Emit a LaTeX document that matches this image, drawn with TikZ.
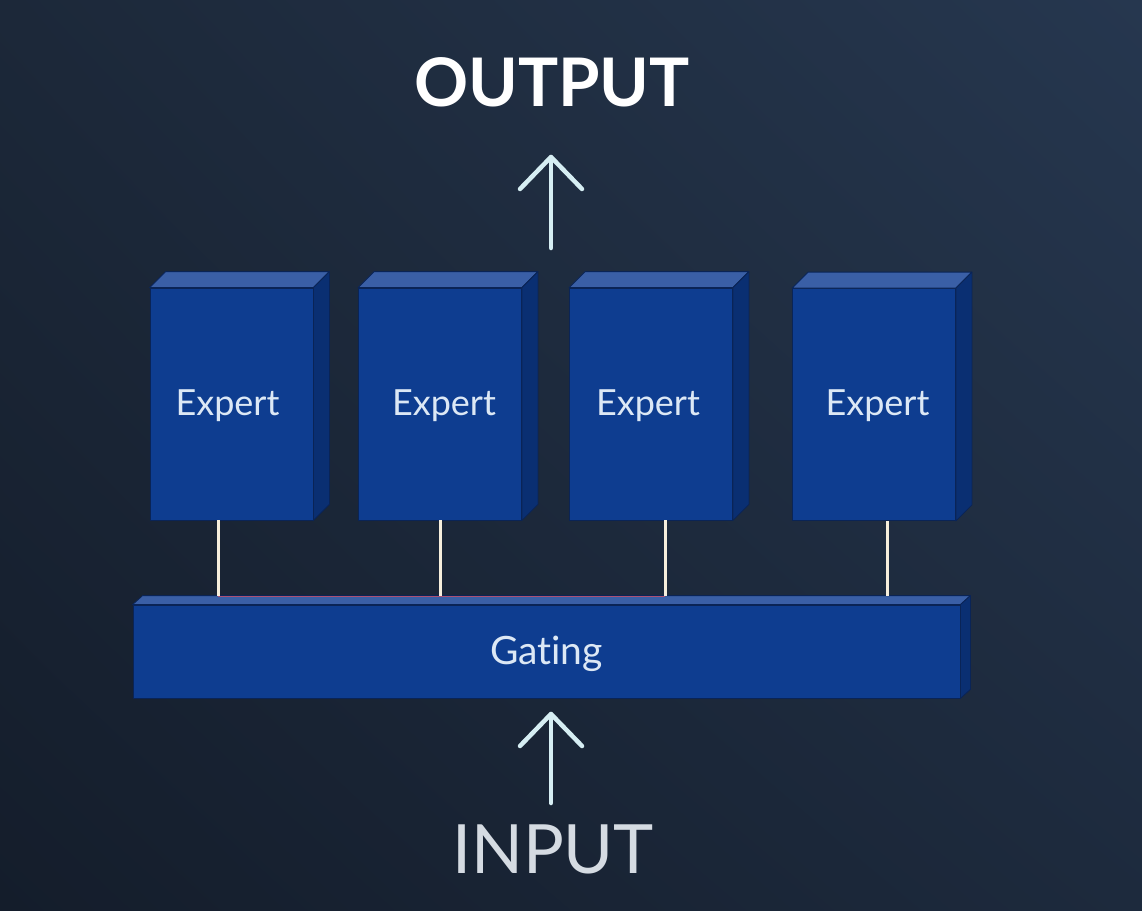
\documentclass[tikz,border=0pt]{standalone}
\usepackage{fontspec}
\setmainfont{Lato}[Ligatures={NoCommon}]
\usetikzlibrary{calc,shadings}
\definecolor{frontc}{HTML}{0E3D90}
\definecolor{topc}{HTML}{3A5FA6}
\definecolor{sidec}{HTML}{0A2F72}
\definecolor{edgec}{HTML}{0A2456}
\definecolor{wirec}{HTML}{F6EEDC}
\definecolor{arrowc}{HTML}{D6EEF3}
\definecolor{inputc}{HTML}{D5DBE2}
\definecolor{labelc}{HTML}{DCE8F5}
\definecolor{redline}{HTML}{C9506A}
\definecolor{bgul}{HTML}{1C2839}
\definecolor{bgur}{HTML}{26374F}
\definecolor{bgll}{HTML}{141D2B}
\definecolor{bglr}{HTML}{1D2A3D}
\tikzset{
  x=1pt,y=-1pt,
  face/.style={draw=edgec,line width=0.8pt,line join=round},
  expert/.style={face,fill=frontc,minimum width=163pt,minimum height=232pt,inner sep=0pt},
  gatebox/.style={face,fill=frontc,minimum width=827pt,minimum height=93pt,inner sep=0pt},
  boxlabel/.style={text=labelc,font=\fontsize{36}{36}\selectfont,inner sep=0pt},
  wire/.style={draw=wirec,line width=3pt},
  bigarrow/.style={draw=arrowc,line width=4.5pt,line cap=round,line join=round},
}
\newcommand{\blockfaces}[3]{%
  \fill[topc,draw=edgec,line width=0.8pt,line join=round] (#1.north west) -- ++(#2,#3) -- ($(#1.north east)+(#2,#3)$) -- (#1.north east) -- cycle;
  \fill[sidec,draw=edgec,line width=0.8pt,line join=round] (#1.north east) -- ++(#2,#3) -- ($(#1.south east)+(#2,#3)$) -- (#1.south east) -- cycle;
}
\begin{document}
\begin{tikzpicture}
\useasboundingbox (0,0) rectangle (1142,910);
\shade[upper left=bgul, upper right=bgur, lower left=bgll, lower right=bglr] (0,0) rectangle (1142,910);

% experts
\node[expert] (e1) at (231.5,404) {};
\node[expert] (e2) at (440,404) {};
\node[expert] (e3) at (651,404) {};
\node[expert] (e4) at (874,404.5) {};
\foreach \n in {e1,e2,e3,e4}{\blockfaces{\n}{16}{-16}}
\node[boxlabel] (l1) at ($(e1.center)+(-4,1.5)$) {Expert};
\node[boxlabel] (l2) at ($(e2.center)+(4,1.5)$) {Expert};
\node[boxlabel] (l3) at ($(e3.center)+(-3,1.5)$) {Expert};
\node[boxlabel] (l4) at ($(e4.center)+(3.5,1)$) {Expert};

% gating
\node[gatebox] (g) at (546.5,651.5) {};
\blockfaces{g}{10}{-9}
\node[boxlabel,font=\fontsize{39}{39}\selectfont] (gl) at ($(g.center)+(0,2)$) {Gating};

% wires
\coordinate (t1) at (218,596);
\coordinate (t2) at (440,596);
\coordinate (t3) at (665,596);
\coordinate (t4) at (887,596);
\draw[draw=redline,line width=1pt,opacity=0.8] (t1) -- (t3);
\foreach \i in {1,2,3,4}{\draw[wire] (e\i.south -| t\i) -- (t\i);}

% output / input
\node[text=white,font=\bfseries\fontsize{67}{67}\selectfont] (out) at (552,82) {OUTPUT};
\node[text=inputc,font=\fontsize{68}{68}\selectfont] (in) at (553,849) {INPUT};

\coordinate (oa) at (551,248);
\coordinate (ob) at (551,157);
\draw[bigarrow] (oa) -- (ob);
\draw[bigarrow] ($(ob)+(-31,32)$) -- (ob) -- ++(31,32);

\coordinate (ia) at (551,803);
\coordinate (ib) at (551,714);
\draw[bigarrow] (ia) -- (ib);
\draw[bigarrow] ($(ib)+(-31,32)$) -- (ib) -- ++(31,32);
\end{tikzpicture}
\end{document}
